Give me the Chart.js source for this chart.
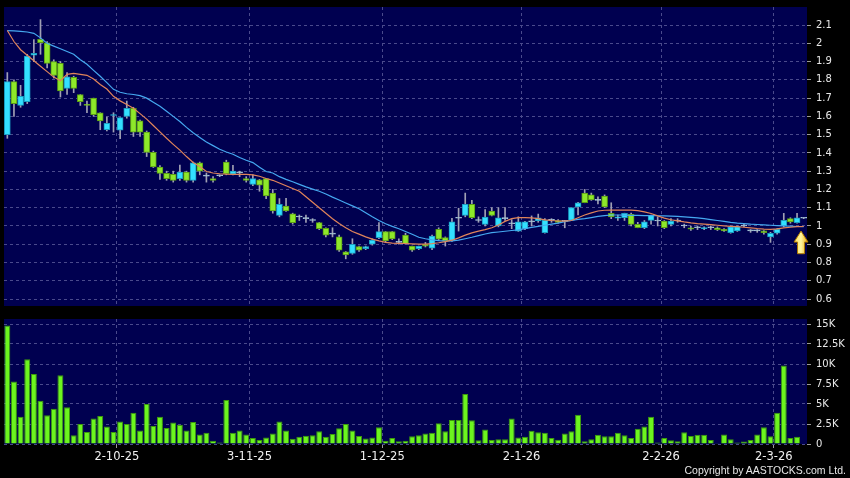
<!DOCTYPE html>
<html lang="en">
<head>
<meta charset="UTF-8">
<title>Chart</title>
<script src="https://cdn.jsdelivr.net/npm/chart.js"></script>
<style>
  html, body { margin: 0; padding: 0; background: #000; }
  .wrap { position: relative; width: 850px; height: 478px; overflow: hidden; background: #000; }
  #priceChart { position: absolute; left: 0; top: 0; }
  #volChart { position: absolute; left: 0; top: 310px; }
  .copy { position: absolute; right: 4px; top: 464px; color: #e6e6e6;
          font: 10.5px "Liberation Sans", Arial, sans-serif; }
</style>
</head>
<body>
<div class="wrap">
  <canvas id="priceChart" width="850" height="310"></canvas>
  <canvas id="volChart" width="850" height="168"></canvas>
  <div class="copy">Copyright by AASTOCKS.com Ltd.</div>
</div>
<script>
// trading days, d-m-yy
var dates = [
  '8-9-25','9-9-25','10-9-25','11-9-25','12-9-25','15-9-25','16-9-25','17-9-25','18-9-25','19-9-25',
  '22-9-25','23-9-25','24-9-25','25-9-25','26-9-25','29-9-25','30-9-25',
  '2-10-25','3-10-25','6-10-25','8-10-25','9-10-25','10-10-25','13-10-25','14-10-25','15-10-25','16-10-25',
  '17-10-25','20-10-25','21-10-25','22-10-25','23-10-25','24-10-25','27-10-25','28-10-25','30-10-25','31-10-25',
  '3-11-25','4-11-25','5-11-25','6-11-25','7-11-25','10-11-25','11-11-25','12-11-25','13-11-25','14-11-25',
  '17-11-25','18-11-25','19-11-25','20-11-25','21-11-25','24-11-25','25-11-25','26-11-25','27-11-25','28-11-25',
  '1-12-25','2-12-25','3-12-25','4-12-25','5-12-25','8-12-25','9-12-25','10-12-25','11-12-25','12-12-25',
  '15-12-25','16-12-25','17-12-25','18-12-25','19-12-25','22-12-25','23-12-25','24-12-25','29-12-25','30-12-25','31-12-25',
  '2-1-26','5-1-26','6-1-26','7-1-26','8-1-26','9-1-26','12-1-26','13-1-26','14-1-26','15-1-26',
  '16-1-26','19-1-26','20-1-26','21-1-26','22-1-26','23-1-26','26-1-26','27-1-26','28-1-26','29-1-26','30-1-26',
  '2-2-26','3-2-26','4-2-26','5-2-26','6-2-26','9-2-26','10-2-26','11-2-26','12-2-26','13-2-26',
  '16-2-26','20-2-26','23-2-26','24-2-26','25-2-26','26-2-26','27-2-26',
  '2-3-26','3-3-26','4-3-26','5-3-26','6-3-26'
];
var labelDates = ['2-10-25', '3-11-25', '1-12-25', '2-1-26', '2-2-26', '2-3-26'];

var open = [
  1.50,1.79,1.66,1.68,1.935,2.022,2.003,1.90,1.89,1.753,
  1.814,1.72,1.662,1.70,1.62,1.527,1.605,1.524,1.60,1.644,
  1.575,1.514,1.403,1.323,1.288,1.283,1.259,1.295,1.25,1.346,
  1.273,1.26,1.275,1.35,1.283,1.291,1.26,1.228,1.252,1.26,
  1.18,1.058,1.109,1.067,1.049,1.04,1.03,1.018,0.987,0.955,
  0.94,0.859,0.85,0.887,0.876,0.90,0.936,0.969,0.969,0.91,
  0.95,0.89,0.876,0.90,0.878,0.982,0.936,0.918,1.042,1.058,
  1.118,1.03,1.009,1.082,1.0,1.04,1.012,0.972,0.985,1.022,
  1.027,0.963,1.031,1.03,1.025,1.031,1.104,1.18,1.17,1.14,
  1.164,1.069,1.042,1.045,1.064,1.009,0.99,1.031,1.027,1.027,
  1.009,1.027,1.0,0.99,0.99,0.985,0.99,0.99,0.982,0.963,
  0.973,1.0,0.973,0.973,0.973,0.94,0.96,1.0,1.04,1.018,
  1.042
];
var close = [
  1.79,1.67,1.71,1.93,1.945,2.003,1.89,1.825,1.74,1.817,
  1.753,1.68,1.66,1.61,1.575,1.562,1.607,1.593,1.644,1.514,
  1.514,1.403,1.323,1.288,1.259,1.25,1.295,1.25,1.346,1.30,
  1.273,1.25,1.275,1.287,1.30,1.291,1.25,1.26,1.223,1.164,
  1.082,1.118,1.082,1.018,1.049,1.04,1.03,0.985,0.949,0.955,
  0.867,0.841,0.90,0.867,0.887,0.923,0.969,0.918,0.929,0.91,
  0.903,0.867,0.89,0.889,0.945,0.927,0.918,1.022,1.042,1.118,
  1.045,1.03,1.049,1.058,1.045,1.04,1.012,1.022,1.022,1.022,
  1.045,1.031,1.031,1.02,1.025,1.10,1.127,1.127,1.142,1.14,
  1.104,1.049,1.05,1.069,1.009,0.99,1.022,1.058,1.027,0.99,
  1.027,1.027,1.0,0.982,0.99,0.99,0.99,0.98,0.973,0.995,
  0.996,1.0,0.973,0.973,0.963,0.96,0.982,1.031,1.022,1.045,
  1.042
];
var high = [
  1.84,1.80,1.77,1.94,2.02,2.13,2.01,1.91,1.90,1.84,
  1.82,1.72,1.684,1.70,1.62,1.596,1.62,1.593,1.684,1.65,
  1.58,1.52,1.41,1.33,1.30,1.30,1.334,1.30,1.35,1.35,
  1.29,1.27,1.28,1.36,1.332,1.30,1.27,1.28,1.255,1.26,
  1.20,1.15,1.151,1.07,1.06,1.06,1.04,1.02,0.99,0.99,
  0.95,0.86,0.93,0.89,0.89,0.93,1.018,0.97,0.97,0.93,
  0.96,0.89,0.89,0.91,0.95,0.99,0.94,1.042,1.097,1.18,
  1.14,1.05,1.09,1.10,1.10,1.10,1.035,1.05,1.025,1.055,
  1.065,1.04,1.04,1.035,1.03,1.10,1.13,1.20,1.18,1.16,
  1.17,1.127,1.06,1.07,1.07,1.02,1.03,1.06,1.05,1.03,
  1.04,1.04,1.01,1.00,1.00,0.995,1.00,0.995,0.985,1.00,
  1.00,1.01,0.98,0.98,0.975,0.965,0.985,1.069,1.045,1.069,
  1.045
];
var low = [
  1.48,1.60,1.65,1.67,1.90,1.94,1.866,1.81,1.706,1.72,
  1.73,1.66,1.62,1.60,1.527,1.52,1.514,1.478,1.59,1.49,
  1.49,1.38,1.32,1.255,1.25,1.24,1.25,1.24,1.24,1.28,
  1.24,1.24,1.27,1.28,1.28,1.27,1.24,1.22,1.19,1.15,
  1.07,1.05,1.08,1.01,1.03,1.02,1.02,0.98,0.94,0.94,
  0.86,0.82,0.845,0.86,0.87,0.895,0.93,0.91,0.925,0.90,
  0.90,0.86,0.87,0.885,0.87,0.92,0.89,0.915,0.972,1.05,
  1.04,1.02,1.0,1.055,0.995,1.03,0.985,0.97,0.98,1.0,
  1.02,0.96,1.02,1.015,0.99,1.03,1.06,1.127,1.14,1.12,
  1.10,1.04,1.03,1.03,1.0,0.99,0.985,1.01,1.0,0.985,
  1.0,1.02,0.99,0.975,0.98,0.98,0.98,0.975,0.97,0.96,
  0.97,0.995,0.965,0.965,0.955,0.91,0.955,0.995,1.015,1.015,
  1.04
];
var ma10 = [
  2.07,2.01,1.965,1.935,1.905,1.875,1.845,1.815,1.795,1.83,
  1.835,1.83,1.825,1.805,1.775,1.75,1.71,1.685,1.665,1.645,
  1.615,1.585,1.55,1.515,1.48,1.447,1.415,1.38,1.348,1.325,
  1.298,1.29,1.286,1.284,1.283,1.283,1.282,1.28,1.272,1.26,
  1.25,1.235,1.22,1.205,1.19,1.16,1.13,1.10,1.07,1.04,
  1.013,0.99,0.97,0.955,0.94,0.928,0.918,0.91,0.906,0.905,
  0.904,0.902,0.90,0.90,0.903,0.908,0.914,0.922,0.935,0.95,
  0.962,0.972,0.98,0.99,1.005,1.025,1.04,1.046,1.046,1.044,
  1.04,1.033,1.03,1.028,1.027,1.03,1.045,1.06,1.072,1.082,
  1.086,1.087,1.087,1.087,1.087,1.084,1.077,1.068,1.055,1.043,
  1.034,1.028,1.022,1.017,1.013,1.01,1.007,1.004,1.0,0.998,
  0.996,0.993,0.99,0.986,0.983,0.981,0.984,0.99,0.993,0.996,
  0.997
];
var ma20 = [
  2.07,2.068,2.065,2.062,2.055,2.03,2.00,1.985,1.97,1.955,
  1.94,1.91,1.885,1.852,1.82,1.785,1.748,1.732,1.724,1.72,
  1.714,1.70,1.678,1.655,1.628,1.60,1.572,1.54,1.51,1.485,
  1.46,1.44,1.42,1.405,1.393,1.375,1.36,1.347,1.322,1.298,
  1.29,1.27,1.255,1.242,1.228,1.214,1.202,1.19,1.175,1.158,
  1.142,1.126,1.11,1.094,1.072,1.05,1.03,1.012,0.998,0.985,
  0.97,0.955,0.938,0.93,0.924,0.92,0.917,0.918,0.922,0.93,
  0.938,0.947,0.956,0.963,0.967,0.971,0.975,0.979,0.985,0.992,
  0.998,1.004,1.01,1.016,1.024,1.03,1.036,1.04,1.046,1.052,
  1.057,1.06,1.06,1.059,1.058,1.058,1.057,1.057,1.056,1.055,
  1.054,1.052,1.05,1.047,1.044,1.04,1.035,1.03,1.025,1.02,
  1.016,1.013,1.01,1.008,1.006,1.004,1.002,1.0,0.999,0.997,
  0.996
];
// volume in thousands of shares
var volume = [
  14.8,7.8,3.4,10.6,8.75,5.4,3.6,4.4,8.6,4.6,
  1.1,2.5,1.5,3.2,3.5,2.2,1.5,2.8,2.5,3.9,
  1.7,5.0,2.25,3.4,2.0,2.7,2.4,1.7,2.75,1.2,
  1.4,0.4,0.2,5.5,1.4,1.7,1.2,0.75,0.5,0.8,
  1.3,2.8,1.7,0.66,0.9,1.04,1.1,1.6,0.9,1.25,
  1.96,2.5,1.7,1.0,0.7,0.8,2.1,0.4,0.75,0.33,
  0.4,0.96,1.1,1.3,1.4,2.6,1.6,3.0,3.0,6.25,
  2.96,0.46,1.8,0.5,0.6,0.58,3.2,0.8,0.9,1.67,
  1.46,1.4,0.75,0.54,1.3,1.6,3.67,0.33,0.6,1.17,
  0.96,0.96,1.4,1.1,0.75,1.9,2.2,3.4,0.2,0.75,
  0.46,0.33,1.46,1.0,1.17,1.17,0.5,0.1,1.2,0.6,
  0.2,0.3,0.5,1.2,2.1,0.96,3.9,9.8,0.75,0.9,
  0.05
];
var priceTicks = [0.6,0.7,0.8,0.9,1,1.1,1.2,1.3,1.4,1.5,1.6,1.7,1.8,1.9,2,2.1];
var volTicks = [0, 2.5, 5, 7.5, 10, 12.5, 15];

// yellow arrow under the last bars
var arrowAt = 119.6;
var arrowTop = 0.972;
var arrowBottom = 0.848;

var navy = '#000050';
var gridCol = '#4a4a8c';
var upCol = '#33e0ff';
var downCol = '#8ee82a';
var dojiCol = '#a8c8d8';

function isLabel(i) {
    return labelDates.indexOf(dates[i]) >= 0;
}

// keep the y axes from pushing the plot area in for their labels
function fixY(s) {
    s.width = 43;
    s.paddingTop = 0;
    s.paddingBottom = 0;
}

var bgPlugin = {
    id: 'bg',
    beforeDraw: function (chart) {
        var c = chart.ctx, a = chart.chartArea;
        c.save();
        c.fillStyle = '#000';
        c.fillRect(0, 0, chart.width, chart.height);
        c.fillStyle = navy;
        c.fillRect(a.left, a.top, a.right - a.left, a.bottom - a.top);
        c.restore();
    }
};

var arrowPlugin = {
    id: 'arrow',
    afterDatasetsDraw: function (chart) {
        var c = chart.ctx;
        var x = chart.scales.x.getPixelForValue(arrowAt);
        var yt = chart.scales.y.getPixelForValue(arrowTop);
        var yb = chart.scales.y.getPixelForValue(arrowBottom);
        var head = 11;
        var g = c.createLinearGradient(x - 7, 0, x + 7, 0);
        g.addColorStop(0, '#ffe060');
        g.addColorStop(0.5, '#fff6a0');
        g.addColorStop(1, '#e8a400');
        c.save();
        c.beginPath();
        c.moveTo(x, yt);
        c.lineTo(x + 7, yt + head);
        c.lineTo(x + 3.5, yt + head);
        c.lineTo(x + 3.5, yb);
        c.lineTo(x - 3.5, yb);
        c.lineTo(x - 3.5, yt + head);
        c.lineTo(x - 7, yt + head);
        c.closePath();
        c.fillStyle = g;
        c.fill();
        c.strokeStyle = '#b07800';
        c.lineWidth = 1;
        c.stroke();
        c.restore();
    }
};

var tickFont = { family: 'DejaVu Sans', size: 10 };

new Chart(document.getElementById('priceChart'), {
    type: 'bar',
    data: {
        labels: dates,
        datasets: [
            {
                type: 'line', data: ma10, borderColor: '#e0845a', borderWidth: 1.2,
                pointRadius: 0, tension: 0
            },
            {
                type: 'line', data: ma20, borderColor: '#45a8f0', borderWidth: 1.2,
                pointRadius: 0, tension: 0
            },
            {
                data: dates.map(function (d, i) { return [open[i], close[i]]; }),
                grouped: false,
                barThickness: 6,
                minBarLength: 1,
                borderWidth: 1,
                borderSkipped: false,
                backgroundColor: close.map(function (c, i) {
                    return c > open[i] ? upCol : (c < open[i] ? downCol : dojiCol);
                }),
                borderColor: close.map(function (c, i) {
                    return c > open[i] ? '#1a9cc0' : (c < open[i] ? '#5a9c14' : dojiCol);
                })
            },
            {
                data: dates.map(function (d, i) { return [low[i], high[i]]; }),
                grouped: false,
                barThickness: 1,
                backgroundColor: '#a0a0b4'
            }
        ]
    },
    options: {
        responsive: false,
        animation: false,
        layout: { padding: { left: 4, top: 7, right: 0, bottom: 4 } },
        plugins: { legend: { display: false }, tooltip: { enabled: false } },
        scales: {
            x: {
                offset: true,
                grid: {
                    offset: true,
                    drawTicks: false,
                    color: function (ctx) { return isLabel(ctx.index) ? gridCol : 'transparent'; }
                },
                border: { display: false, dash: [3, 3] },
                ticks: { display: false, autoSkip: false },
                afterFit: function (s) { s.height = 0; }
            },
            y: {
                position: 'right',
                min: 0.5617,
                max: 2.199,
                afterBuildTicks: function (s) {
                    s.ticks = priceTicks.map(function (v) { return { value: v }; });
                },
                ticks: {
                    color: '#e8e8e8',
                    font: tickFont,
                    padding: 5,
                    callback: function (v) { return String(Number(v.toFixed(1))); }
                },
                grid: { color: gridCol, tickLength: 4, tickColor: '#9a9a9a' },
                border: { display: false, dash: [3, 3] },
                afterFit: fixY
            }
        }
    },
    plugins: [bgPlugin, arrowPlugin]
});

new Chart(document.getElementById('volChart'), {
    type: 'bar',
    data: {
        labels: dates,
        datasets: [{
            data: volume,
            barPercentage: 0.9,
            categoryPercentage: 1,
            backgroundColor: '#6cf51e',
            borderColor: '#3c9a0c',
            borderWidth: 1,
            borderSkipped: 'bottom'
        }]
    },
    options: {
        responsive: false,
        animation: false,
        layout: { padding: { left: 4, top: 9, right: 0, bottom: 0 } },
        plugins: { legend: { display: false }, tooltip: { enabled: false } },
        scales: {
            x: {
                offset: true,
                grid: {
                    offset: true,
                    tickLength: 4,
                    color: function (ctx) { return isLabel(ctx.index) ? gridCol : 'transparent'; },
                    tickColor: function (ctx) { return isLabel(ctx.index) ? '#9a9a9a' : 'transparent'; }
                },
                border: { display: false, dash: [3, 3] },
                ticks: {
                    autoSkip: false,
                    maxRotation: 0,
                    color: '#f0f0f0',
                    font: { family: 'DejaVu Sans', size: 11.5 },
                    padding: 2,
                    labelOffset: -3.3,
                    callback: function (v, i) { return isLabel(i) ? dates[i] : ''; }
                },
                afterFit: function (s) { s.height = 34; s.paddingLeft = 0; s.paddingRight = 0; }
            },
            y: {
                position: 'right',
                min: 0,
                max: 15.625,
                afterBuildTicks: function (s) {
                    s.ticks = volTicks.map(function (v) { return { value: v }; });
                },
                ticks: {
                    color: '#e8e8e8',
                    font: tickFont,
                    padding: 5,
                    callback: function (v) { return v === 0 ? '0' : v + 'K'; }
                },
                grid: { color: gridCol, tickLength: 4, tickColor: '#9a9a9a' },
                border: { display: false, dash: [3, 3] },
                afterFit: fixY
            }
        }
    },
    plugins: [bgPlugin]
});
</script>
</body>
</html>
